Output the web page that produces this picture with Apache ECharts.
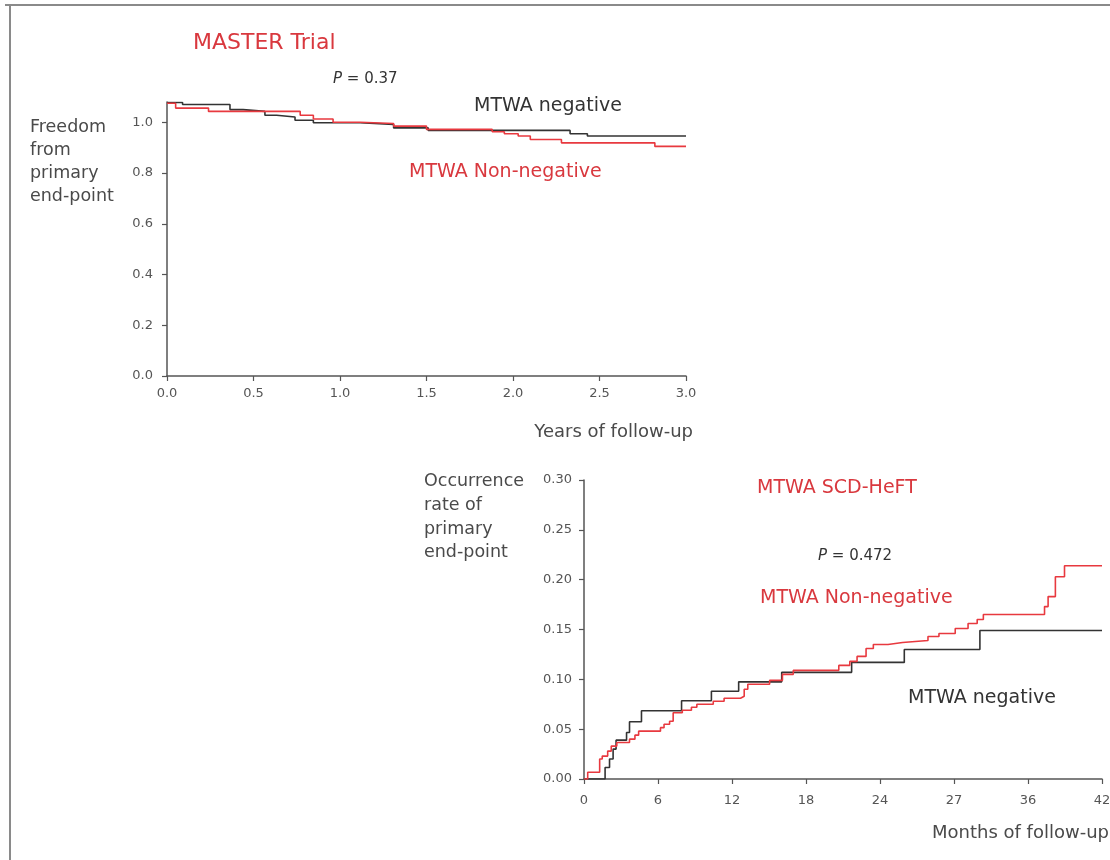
<!DOCTYPE html>
<html>
<head>
<meta charset="utf-8">
<script src="https://cdn.jsdelivr.net/npm/echarts@6/dist/echarts.min.js"></script>
<style>
html,body{margin:0;padding:0;background:#fff;}
#chart{width:1110px;height:860px;}
</style>
</head>
<body>
<div id="chart"></div>
<script>
// ---- Top chart: MASTER Trial (years, freedom from primary end-point) ----
const masterYTicks = [0, 0.2, 0.4, 0.6, 0.8, 1.0];
const masterNegX = [0, 0.09, 0.364, 0.44, 0.566, 0.634, 0.74, 0.846, 1.116, 1.31, 1.51, 2.33, 2.43, 3.0];
const masterNegY = [1.078, 1.07, 1.05, 1.043, 1.028, 1.021, 1.008, 0.998, 0.992, 0.978, 0.968, 0.955, 0.946, 0.946];
const masterNonX = [0, 0.05, 0.24, 0.77, 0.846, 0.96, 1.116, 1.31, 1.5, 1.88, 1.95, 2.03, 2.1, 2.28, 2.82, 3.0];
const masterNonY = [1.075, 1.056, 1.043, 1.028, 1.013, 1.0, 0.995, 0.985, 0.972, 0.963, 0.955, 0.946, 0.932, 0.919, 0.905, 0.905];

// ---- Bottom chart: MTWA SCD-HeFT (months, occurrence rate) ----
const scdMonthLabels = ["0", "6", "12", "18", "24", "27", "36", "42"];
const scdNegX = [0, 1.71, 2.07, 2.36, 2.6, 3.45, 3.69, 4.66, 7.91, 10.33, 12.54, 16.03, 21.7, 25.97, 32.1, 42];
const scdNegY = [0, 0.0116, 0.02, 0.03, 0.039, 0.0466, 0.0575, 0.0685, 0.0785, 0.088, 0.0975, 0.107, 0.117, 0.13, 0.149, 0.149];
const scdNonX = [0, 0.3, 1.27, 1.48, 1.92, 2.21, 2.66, 3.69, 4.13, 4.43, 6.2, 6.49, 6.94, 7.23, 7.97, 8.71, 9.15, 10.48, 11.36, 12.69, 12.99, 13.28, 15.05, 16.09, 16.97, 20.66, 21.55, 22.14, 22.87, 23.46, 24.65, 25.83, 27.89, 28.78, 30.1, 31.14, 31.88, 32.38, 37.34, 37.63, 38.22, 38.96, 42];
const scdNonY = [0, 0.0067, 0.02, 0.023, 0.028, 0.033, 0.0366, 0.04, 0.044, 0.048, 0.0515, 0.055, 0.058, 0.0665, 0.069, 0.072, 0.075, 0.078, 0.081, 0.083, 0.09, 0.095, 0.099, 0.105, 0.109, 0.114, 0.118, 0.123, 0.131, 0.135, 0.137, 0.139, 0.143, 0.146, 0.151, 0.156, 0.16, 0.165, 0.173, 0.183, 0.203, 0.214, 0.214];

const zip = (xs, ys) => xs.map((x, i) => [x, ys[i]]);

const RED_LINE = '#e8393f';
const RED_TEXT = '#d9383e';
const DARK = '#333333';
const AXIS = '#555555';
const TXT = '#4a4a4a';
const FONT = 'DejaVu Sans';

function axisCommon() {
  return {
    axisLine: { show: true, lineStyle: { color: AXIS, width: 1.5 } },
    axisTick: { show: true, length: 5, lineStyle: { color: AXIS, width: 1.2 } },
    splitLine: { show: false }
  };
}

const chart = echarts.init(document.getElementById('chart'), null, { renderer: 'canvas' });

const option = {
  animation: false,
  backgroundColor: '#ffffff',
  grid: [
    { left: 167, right: 424, top: 102, bottom: 484, outerBoundsMode: 'none' },
    { left: 584, right: 8, top: 480, bottom: 81, outerBoundsMode: 'none' }
  ],
  xAxis: [
    Object.assign(axisCommon(), {
      type: 'value', gridIndex: 0, min: 0, max: 3, interval: 0.5,
      axisLabel: { color: AXIS, fontSize: 13, fontFamily: FONT, margin: 11,
        formatter: v => v.toFixed(1) }
    }),
    Object.assign(axisCommon(), {
      type: 'value', gridIndex: 1, min: 0, max: 42, interval: 6,
      axisLabel: { color: AXIS, fontSize: 13, fontFamily: FONT, margin: 15,
        formatter: v => scdMonthLabels[Math.round(v / 6)] }
    })
  ],
  yAxis: [
    Object.assign(axisCommon(), {
      type: 'value', gridIndex: 0, min: 0, max: 1.08,
      axisTick: { show: true, length: 5, customValues: masterYTicks, lineStyle: { color: AXIS, width: 1.2 } },
      axisLabel: { color: AXIS, fontSize: 13, fontFamily: FONT, margin: 14,
        customValues: masterYTicks, formatter: v => v.toFixed(1) }
    }),
    Object.assign(axisCommon(), {
      type: 'value', gridIndex: 1, min: 0, max: 0.30, interval: 0.05,
      axisLabel: { color: AXIS, fontSize: 13, fontFamily: FONT, margin: 12,
        formatter: v => v.toFixed(2) }
    })
  ],
  series: [
    { type: 'line', xAxisIndex: 0, yAxisIndex: 0, step: 'end', showSymbol: false,
      data: zip(masterNegX, masterNegY), lineStyle: { color: DARK, width: 1.6 }, z: 3 },
    { type: 'line', xAxisIndex: 0, yAxisIndex: 0, step: 'end', showSymbol: false,
      data: zip(masterNonX, masterNonY), lineStyle: { color: RED_LINE, width: 1.6 }, z: 4 },
    { type: 'line', xAxisIndex: 1, yAxisIndex: 1, step: 'end', showSymbol: false,
      data: zip(scdNegX, scdNegY), lineStyle: { color: DARK, width: 1.6 }, z: 3 },
    { type: 'line', xAxisIndex: 1, yAxisIndex: 1, step: 'end', showSymbol: false,
      data: zip(scdNonX, scdNonY), lineStyle: { color: RED_LINE, width: 1.6 }, z: 4 }
  ],
  graphic: [
    // frame
    { type: 'line', shape: { x1: 5, y1: 5, x2: 1110, y2: 5 }, style: { stroke: '#8a8a8a', lineWidth: 2 } },
    { type: 'line', shape: { x1: 10, y1: 5, x2: 10, y2: 860 }, style: { stroke: '#8a8a8a', lineWidth: 2 } },
    // top chart texts
    { type: 'text', left: 193, top: 32, style: { text: 'MASTER Trial', fill: RED_TEXT, font: '22px "DejaVu Sans"' } },
    { type: 'text', left: 333, top: 72, style: {
        text: '{i|P} = 0.37', fill: DARK, font: '15px "DejaVu Sans"',
        rich: { i: { fontStyle: 'italic', fontSize: 15, fontFamily: FONT, fill: DARK } } } },
    { type: 'text', left: 474, top: 97, style: { text: 'MTWA negative', fill: DARK, font: '19px "DejaVu Sans"' } },
    { type: 'text', left: 409, top: 163, style: { text: 'MTWA Non-negative', fill: RED_TEXT, font: '19px "DejaVu Sans"' } },
    { type: 'text', left: 30, top: 116, style: { text: 'Freedom\nfrom\nprimary\nend-point', fill: TXT,
        font: '17.5px "DejaVu Sans"', lineHeight: 23 } },
    { type: 'text', right: 417, top: 423, style: { text: 'Years of follow-up', fill: TXT, font: '18px "DejaVu Sans"' } },
    // bottom chart texts
    { type: 'text', left: 757, top: 479, style: { text: 'MTWA SCD-HeFT', fill: RED_TEXT, font: '19px "DejaVu Sans"' } },
    { type: 'text', left: 818, top: 549, style: {
        text: '{i|P} = 0.472', fill: DARK, font: '15px "DejaVu Sans"',
        rich: { i: { fontStyle: 'italic', fontSize: 15, fontFamily: FONT, fill: DARK } } } },
    { type: 'text', left: 760, top: 589, style: { text: 'MTWA Non-negative', fill: RED_TEXT, font: '19px "DejaVu Sans"' } },
    { type: 'text', left: 908, top: 689, style: { text: 'MTWA negative', fill: DARK, font: '19px "DejaVu Sans"' } },
    { type: 'text', left: 424, top: 470, style: { text: 'Occurrence\nrate of\nprimary\nend-point', fill: TXT,
        font: '17.5px "DejaVu Sans"', lineHeight: 23.7 } },
    { type: 'text', right: 1, top: 824, style: { text: 'Months of follow-up', fill: TXT, font: '18px "DejaVu Sans"' } }
  ]
};
chart.setOption(option);
</script>
</body>
</html>
